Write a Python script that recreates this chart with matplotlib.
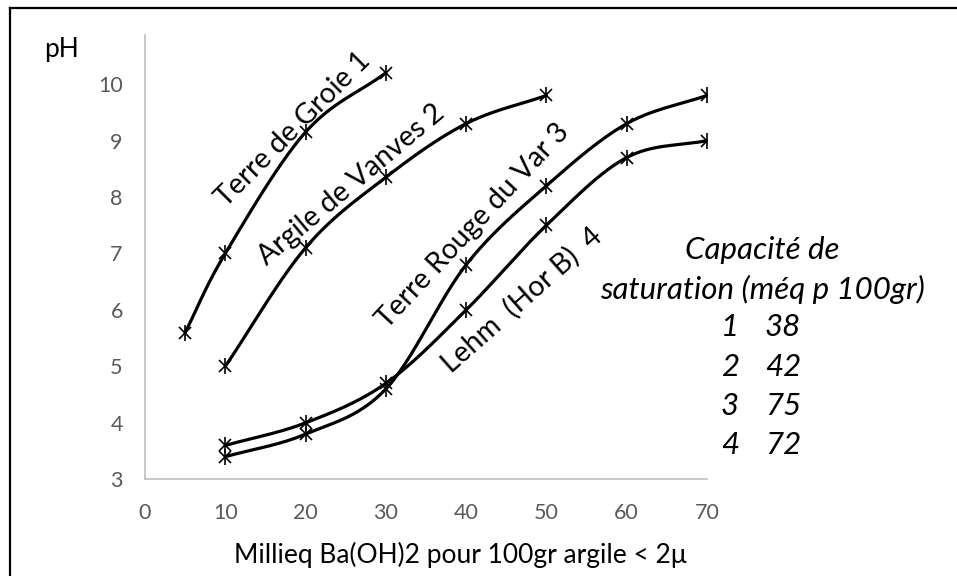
import numpy as np
import matplotlib.pyplot as plt
from matplotlib.lines import Line2D
from matplotlib.transforms import offset_copy

# data
x_groie = [5, 10, 20, 30]
ph_groie = [5.6, 7.0, 9.15, 10.2]
x_vanves = [10, 20, 30, 40, 50]
ph_vanves = [5.0, 7.1, 8.35, 9.3, 9.8]
x_var = [10, 20, 30, 40, 50, 60, 70]
ph_var = [3.4, 3.8, 4.6, 6.8, 8.2, 9.3, 9.8]
x_lehm = [10, 20, 30, 40, 50, 60, 70]
ph_lehm = [3.6, 4.0, 4.7, 6.0, 7.5, 8.7, 9.0]

curve_labels = ['Terre de Groie 1', 'Argile de Vanves 2',
                'Terre Rouge du Var 3', 'Lehm  (Hor B)  4']
sol_num = ['1', '2', '3', '4']
capacite = ['38', '42', '75', '72']


def smooth(xs, ys, n=30):
    # catmull-rom curve through the points, like the excel smoothed line
    p = np.column_stack([xs, ys]).astype(float)
    p = np.vstack([2 * p[0] - p[1], p, 2 * p[-1] - p[-2]])
    out = []
    t = np.linspace(0, 1, n)[:, None]
    for i in range(1, len(p) - 2):
        p0, p1, p2, p3 = p[i - 1], p[i], p[i + 1], p[i + 2]
        seg = 0.5 * ((2 * p1) + (-p0 + p2) * t
                     + (2 * p0 - 5 * p1 + 4 * p2 - p3) * t ** 2
                     + (-p0 + 3 * p1 - 3 * p2 + p3) * t ** 3)
        out.append(seg)
    out = np.vstack(out)
    return out[:, 0], out[:, 1]


plt.rcParams['font.family'] = ['Lato', 'DejaVu Sans']

fig = plt.figure(figsize=(9.57, 5.76), dpi=100)
ax = fig.add_axes([0.1515, 0.1679, 0.5873, 0.7713])

for xs, ys in [(x_groie, ph_groie), (x_vanves, ph_vanves),
               (x_var, ph_var), (x_lehm, ph_lehm)]:
    sx, sy = smooth(xs, ys)
    ax.plot(sx, sy, color='black', lw=2.3, solid_capstyle='round')
    ax.plot(xs, ys, 'x', color='black', ms=8.5, mew=1.2)
    ax.plot(xs, ys, '|', color='black', ms=11, mew=1.2)

ax.set_xlim(0, 70)
ax.set_ylim(3, 10.87)
ax.set_xticks(range(0, 71, 10))
ax.set_yticks(range(3, 11))
ax.tick_params(length=0, labelsize=15.5, colors='#595959')
ax.tick_params(axis='y', pad=16)
ax.tick_params(axis='x', pad=17)
for s in ['top', 'right']:
    ax.spines[s].set_visible(False)
for s in ['left', 'bottom']:
    ax.spines[s].set_color('#BFBFBF')
    ax.spines[s].set_linewidth(1.2)

# labels along the curves: baseline centre, screen angle, offset (pt) normal to the text
lab_pos = [(20.2, 8.95, 45, 8.5), (27.0, 8.00, 40, 5.5), (43.0, 7.20, 47, 11),
           (46.9, 6.17, 41.5, -6)]
for txt, (lx, ly, rot, off) in zip(curve_labels, lab_pos):
    a = np.radians(rot)
    tr = offset_copy(ax.transData, fig=fig, x=-off * np.sin(a), y=off * np.cos(a),
                     units='points')
    ax.text(lx, ly, txt, rotation=rot, fontsize=20.5, ha='center', va='baseline',
            rotation_mode='anchor', transform=tr)

fig.text(460 / 957, 1 - 555 / 576, 'Millieq Ba(OH)2 pour 100gr argile < 2\u03bc',
         fontsize=19, ha='center', va='center')
fig.text(61 / 957, 1 - 50 / 576, 'pH', fontsize=19, ha='center', va='center')

fig.text(762 / 957, 1 - 250 / 576, 'Capacité de', fontsize=22.5, style='italic',
         ha='center', va='center')
fig.text(762 / 957, 1 - 289 / 576, 'saturation (méq p 100gr)', fontsize=22.5,
         style='italic', ha='center', va='center')
for i, (n, c) in enumerate(zip(sol_num, capacite)):
    yy = 1 - (327 + i * 39.5) / 576
    fig.text(730 / 957, yy, n, fontsize=22.5, style='italic', ha='center', va='center')
    fig.text(783 / 957, yy, c, fontsize=22.5, style='italic', ha='center', va='center')

# chart border (left and top edges visible)
fig.add_artist(Line2D([9.5 / 957, 9.5 / 957], [0, 1 - 7.5 / 576], color='black', lw=1.6,
                      transform=fig.transFigure))
fig.add_artist(Line2D([9.5 / 957, 1], [1 - 7.5 / 576, 1 - 7.5 / 576], color='black', lw=1.6,
                      transform=fig.transFigure))

fig.savefig('out.png', dpi=100)
